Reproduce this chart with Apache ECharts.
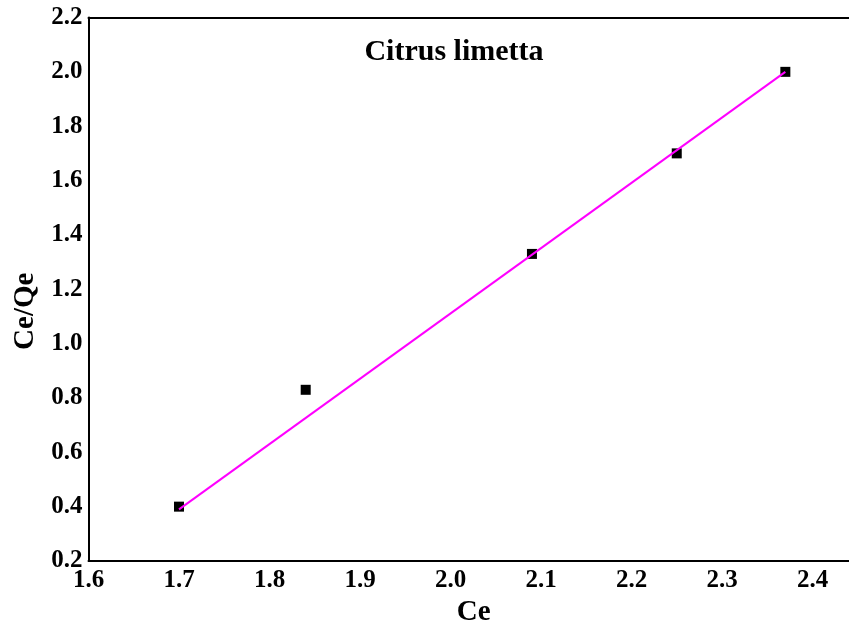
<!DOCTYPE html>
<html>
<head>
<meta charset="utf-8">
<script src="https://cdn.jsdelivr.net/npm/echarts@6/dist/echarts.min.js"></script>
<style>
  html, body { margin: 0; padding: 0; background: #fff; }
  #chart { width: 849px; height: 628px; }
</style>
</head>
<body>
<div id="chart"></div>
<script>
// Langmuir-type linear plot: Ce against Ce/Qe
const ce = [1.70, 1.84, 2.09, 2.25, 2.37];
const ceQe = [0.40, 0.83, 1.33, 1.70, 2.00];

// Fitted straight line, drawn between its two end points
const fitCe = [1.70, 2.37];
const fitCeQe = [0.39, 2.00];

const xTicks = { min: 1.6, max: 2.5, interval: 0.1 };
const yTicks = { min: 0.2, max: 2.2, interval: 0.2 };

const font = '"Liberation Serif", "Times New Roman", serif';

const chart = echarts.init(document.getElementById('chart'), null, { renderer: 'canvas' });

chart.setOption({
  animation: false,
  backgroundColor: '#ffffff',
  title: {
    text: 'Citrus limetta',
    left: 449,
    top: 32,
    textAlign: 'center',
    textStyle: { fontFamily: font, fontWeight: 'bold', fontSize: 30, color: '#000' }
  },
  // the plot runs on past the right edge of the canvas
  grid: {
    left: 88.5, top: 17.5, right: -54, bottom: 67,
    containLabel: false,
    outerBoundsMode: 'none'
  },
  xAxis: [
    {
      type: 'value',
      min: xTicks.min, max: xTicks.max, interval: xTicks.interval,
      name: 'Ce',
      nameLocation: 'middle',
      nameGap: 36,
      nameTextStyle: {
        fontFamily: font, fontWeight: 'bold', fontSize: 29, color: '#000',
        padding: [0, 44, 0, 0]
      },
      axisLine: { show: true, lineStyle: { color: '#000', width: 2 } },
      axisTick: { show: false },
      splitLine: { show: false },
      axisLabel: {
        fontFamily: font, fontWeight: 'bold', fontSize: 25, color: '#000', margin: 7,
        formatter: v => v.toFixed(1)
      }
    },
    {
      type: 'value',
      position: 'top',
      min: xTicks.min, max: xTicks.max, interval: xTicks.interval,
      axisLine: { show: true, lineStyle: { color: '#000', width: 2 } },
      axisTick: { show: false },
      axisLabel: { show: false },
      splitLine: { show: false }
    }
  ],
  yAxis: {
    type: 'value',
    min: yTicks.min, max: yTicks.max, interval: yTicks.interval,
    name: 'Ce/Qe',
    nameLocation: 'middle',
    nameGap: 39,
    nameTextStyle: {
      fontFamily: font, fontWeight: 'bold', fontSize: 29, color: '#000',
      padding: [0, 44, 0, 0]
    },
    axisLine: { show: true, lineStyle: { color: '#000', width: 2 } },
    axisTick: { show: false },
    splitLine: { show: false },
    axisLabel: {
      fontFamily: font, fontWeight: 'bold', fontSize: 25, color: '#000', margin: 6,
      formatter: v => v.toFixed(1)
    }
  },
  series: [
    {
      type: 'scatter',
      data: ce.map((x, i) => [x, ceQe[i]]),
      symbol: 'rect',
      symbolSize: 10,
      itemStyle: { color: '#000', opacity: 1 },
      z: 2
    },
    {
      type: 'line',
      data: fitCe.map((x, i) => [x, fitCeQe[i]]),
      symbol: 'none',
      lineStyle: { color: '#ff00ff', width: 2 },
      z: 3
    }
  ]
});
</script>
</body>
</html>
